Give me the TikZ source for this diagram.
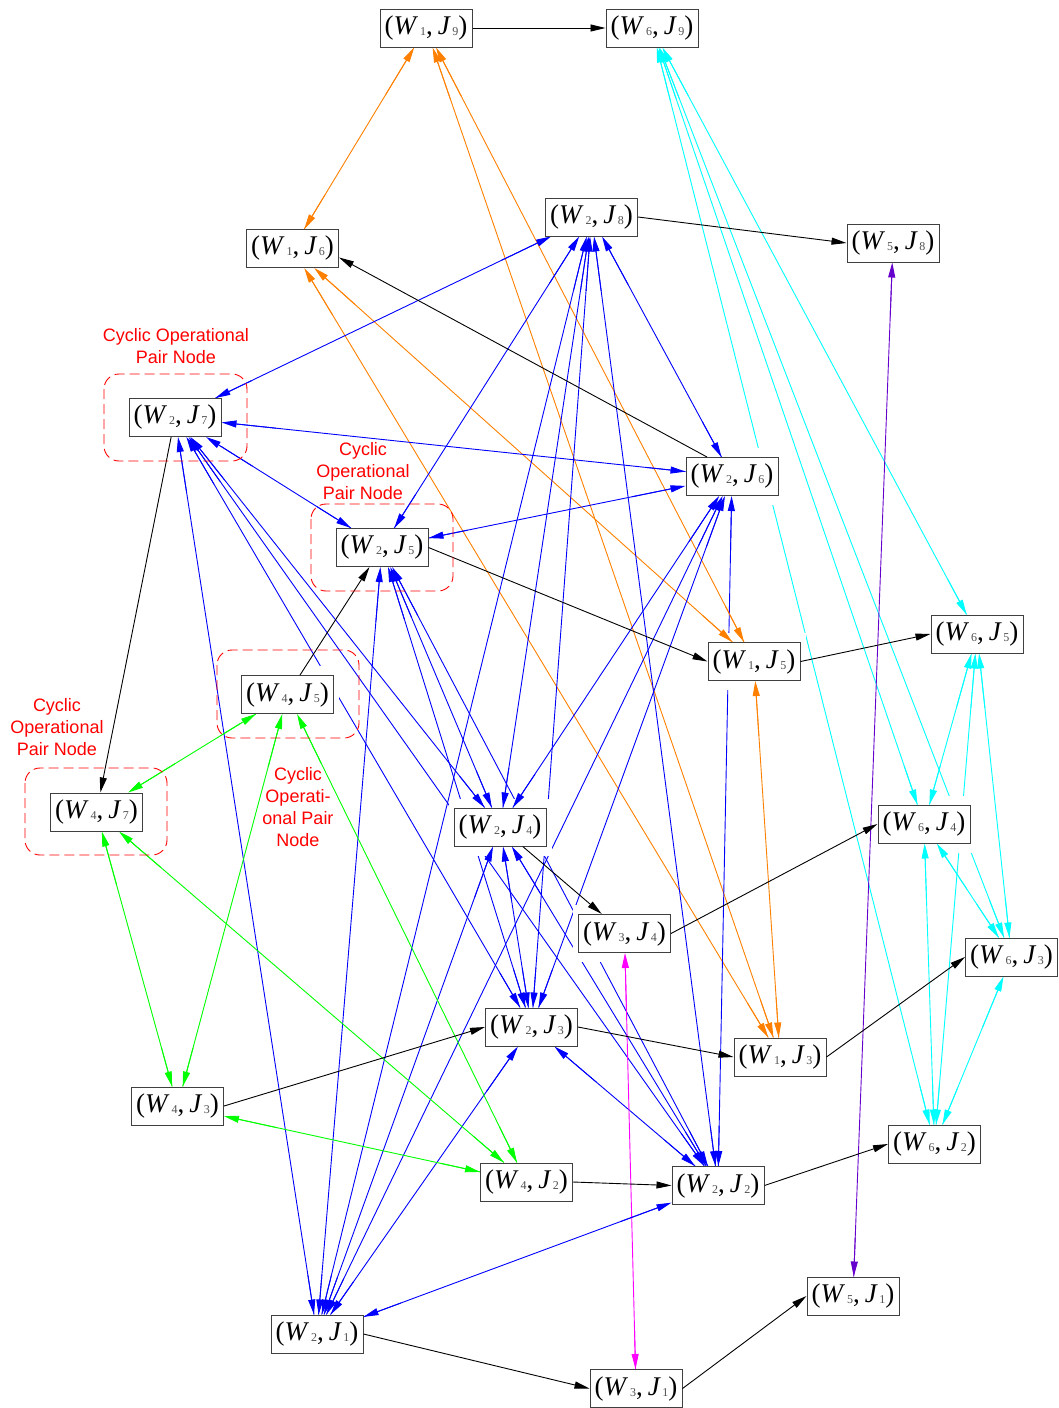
\documentclass[tikz,border=0pt]{standalone}
\usepackage{fontspec}
\setmainfont{Liberation Serif}
\setsansfont{Liberation Sans}
\usetikzlibrary{arrows.meta}

\definecolor{cblue}{RGB}{0,0,255}
\definecolor{corange}{RGB}{255,128,0}
\definecolor{ccyan}{RGB}{0,255,255}
\definecolor{cgreen}{RGB}{0,255,0}
\definecolor{cmag}{RGB}{255,0,255}
\definecolor{cpurp}{RGB}{102,0,204}
\definecolor{subgray}{RGB}{80,80,80}
\definecolor{cred}{RGB}{255,0,0}

\pgfdeclarelayer{lines}
\pgfdeclarelayer{occl}
\pgfdeclarelayer{tips}
\pgfsetlayers{lines,occl,tips,main}

% operation label (W_i, J_k)
\newcommand\subfnt{\fontsize{12}{12}\selectfont\color{subgray}}
\newcommand\wj[2]{(\textit{W}\kern2pt\raisebox{-1pt}{\subfnt #1},\kern5pt\textit{J}\kern1.5pt\raisebox{-1pt}{\subfnt #2})}

% two-way edge: full line below the node masks, tips and end pieces above them
\newcommand\pairedge[3]{%
  \begin{pgfonlayer}{lines}\draw[#1] (#2) -- (#3);\end{pgfonlayer}
  \begin{pgfonlayer}{tips}
    \draw[#1,<->,endpiece] (#2) -- (#3);
    \draw[#1,endpiece] (#3) -- (#2);
  \end{pgfonlayer}}
% all two-way edges among the operations of one machine
\newcommand\clique[2]{%
  \foreach \ca [count=\ci] in {#2}{%
    \foreach \cb [count=\cj] in {#2}{%
      \ifnum\cj>\ci\relax\pairedge{#1}{\ca}{\cb}\fi}}}

\tikzset{
  x=1pt, y=-1pt,
  >={Triangle[length=15pt,width=7pt]},
  wnode/.style={draw=black!75, line width=1pt, fill=white, minimum width=92pt,
    minimum height=38pt, inner sep=0pt, font=\fontsize{27}{27}\selectfont},
  endpiece/.style={dash pattern=on 40pt off 15000pt},
  eblue/.style={cblue, line width=0.9pt},
  eorange/.style={corange, line width=0.9pt},
  ecyan/.style={ccyan, line width=0.9pt},
  egreen/.style={cgreen, line width=0.9pt},
  emag/.style={cmag, line width=0.9pt},
  epurp/.style={cpurp, line width=0.9pt},
  jobarrow/.style={black, line width=0.9pt, ->},
  cycbox/.style={cred, line width=0.9pt, dash pattern=on 10pt off 5pt, rounded corners=15pt},
  cyclbl/.style={text=cred, align=center, inner sep=0pt,
    font=\sffamily\fontsize{18}{22}\selectfont},
}

\begin{document}
\begin{tikzpicture}
\useasboundingbox (0,0) rectangle (1058,1408);

% operations
\node[wnode] (w1j9) at (426,28) {\wj19};
\node[wnode] (w6j9) at (652,28) {\wj69};
\node[wnode] (w2j8) at (591.5,217) {\wj28};
\node[wnode] (w1j6) at (292.5,248.5) {\wj16};
\node[wnode] (w5j8) at (893,243) {\wj58};
\node[wnode] (w2j7) at (175,417.5) {\wj27};
\node[wnode] (w2j6) at (732,476.5) {\wj26};
\node[wnode] (w2j5) at (382,547.5) {\wj25};
\node[wnode] (w1j5) at (754,661.5) {\wj15};
\node[wnode] (w6j5) at (977,634) {\wj65};
\node[wnode] (w4j5) at (287.5,694.5) {\wj45};
\node[wnode] (w4j7) at (96.5,812) {\wj47};
\node[wnode] (w2j4) at (500,827) {\wj24};
\node[wnode] (w6j4) at (924,824) {\wj64};
\node[wnode] (w3j4) at (624.5,933.5) {\wj34};
\node[wnode] (w6j3) at (1011.5,957) {\wj63};
\node[wnode] (w2j3) at (531.5,1027) {\wj23};
\node[wnode] (w1j3) at (780,1057) {\wj13};
\node[wnode] (w4j3) at (177.5,1106) {\wj43};
\node[wnode] (w6j2) at (934.5,1144) {\wj62};
\node[wnode] (w4j2) at (526.5,1182) {\wj42};
\node[wnode] (w2j2) at (718,1185.5) {\wj22};
\node[wnode] (w5j1) at (853,1296) {\wj51};
\node[wnode] (w2j1) at (317,1334) {\wj21};
\node[wnode] (w3j1) at (636,1388.5) {\wj31};

% white masks round the operations
\begin{pgfonlayer}{occl}
\foreach \n in {w1j9,w6j9,w2j8,w1j6,w5j8,w2j7,w2j6,w2j5,w1j5,w6j5,w4j5,w4j7,w2j4,
  w6j4,w3j4,w6j3,w2j3,w1j3,w4j3,w6j2,w4j2,w2j2,w5j1,w2j1,w3j1}{
  \fill[white] ([xshift=-5pt,yshift=9pt]\n.north west) rectangle ([xshift=5pt,yshift=-9pt]\n.south east);}
\end{pgfonlayer}

% machine edges
\clique{eorange}{w1j9,w1j6,w1j5,w1j3}
\clique{eblue}{w2j8,w2j7,w2j6,w2j5,w2j4,w2j3,w2j2,w2j1}
\clique{egreen}{w4j7,w4j5,w4j3,w4j2}
\clique{ecyan}{w6j9,w6j5,w6j4,w6j3,w6j2}
\pairedge{emag}{w3j4}{w3j1}
\pairedge{epurp}{w5j8}{w5j1}

% job routes
\draw[jobarrow] (w1j9.east) -- (w6j9.west);
\draw[jobarrow] (w2j8.east) -- (w5j8.west);
\draw[jobarrow] ([xshift=-25pt]w2j6.north) -- ([yshift=-9pt]w1j6.east);
\draw[jobarrow] (w2j7) -- (w4j7);
\draw[jobarrow] (w4j5) -- (w2j5);
\draw[jobarrow] (w2j5.east) -- (w1j5.west);
\draw[jobarrow] (w1j5.east) -- (w6j5.west);
\draw[jobarrow] (w2j4) -- (w3j4);
\draw[jobarrow] (w3j4.east) -- (w6j4.west);
\draw[jobarrow] (w4j3.east) -- (w2j3.west);
\draw[jobarrow] (w2j3.east) -- (w1j3.west);
\draw[jobarrow] (w1j3.east) -- (w6j3.west);
\draw[jobarrow] (w4j2.east) -- (w2j2.west);
\draw[jobarrow] (w2j2.east) -- (w6j2.west);
\draw[jobarrow] (w2j1.east) -- (w3j1.west);
\draw[jobarrow] (w3j1.east) -- (w5j1.west);

% cyclic operational pair nodes
\draw[cycbox] (104,374) rectangle (247,461);
\draw[cycbox] (311,504) rectangle (453,591);
\draw[cycbox] (217,650) rectangle (359,738);
\draw[cycbox] (25,768) rectangle (167,855);
\node[cyclbl] (lab1) at (176,346) {Cyclic Operational\\Pair Node};
\node[cyclbl] (lab2) at (363,471) {Cyclic\\Operational\\Pair Node};
\node[cyclbl] (lab3) at (57,727) {Cyclic\\Operational\\Pair Node};
\node[cyclbl] (lab4) at (298,807) {Cyclic\\Operati-\\onal Pair\\Node};
\end{tikzpicture}
\end{document}
